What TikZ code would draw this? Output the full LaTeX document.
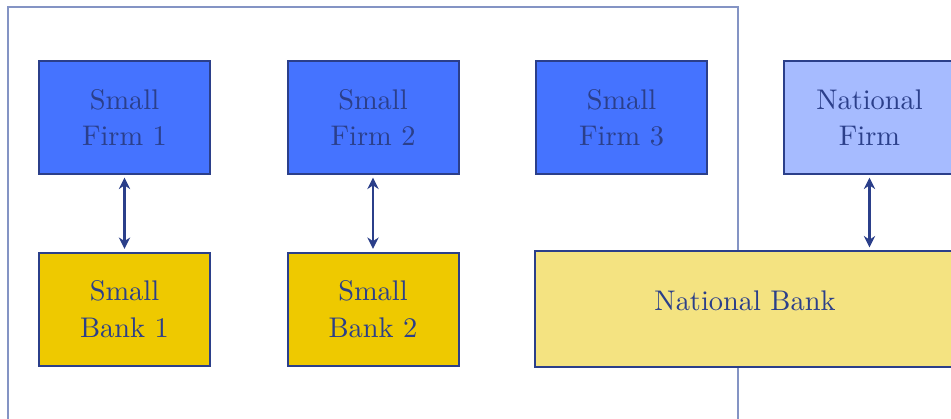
\documentclass[tikz,border=0pt]{standalone}
\usetikzlibrary{arrows.meta}
\definecolor{edgeblue}{HTML}{2B3F8A}
\definecolor{frameblue}{HTML}{8494C4}
\definecolor{firmblue}{HTML}{4573FF}
\definecolor{natfirm}{HTML}{A6BBFF}
\definecolor{bankgold}{HTML}{EEC900}
\definecolor{natbank}{HTML}{F4E381}
\begin{document}
\begin{tikzpicture}[x=0.3521pt,y=-0.3521pt,
  box/.style={draw=edgeblue,line width=0.7pt,rectangle,align=center,
    text=edgeblue,minimum width=171*0.3521pt,minimum height=113*0.3521pt,
    inner sep=0pt,outer sep=0pt},
  firm/.style={box,fill=firmblue},
  bigfirm/.style={box,fill=natfirm},
  bank/.style={box,fill=bankgold},
  bigbank/.style={box,fill=natbank,minimum width=420*0.3521pt,minimum height=116*0.3521pt,
    text height=7pt,text depth=6pt},
  link/.style={draw=edgeblue,line width=0.8pt,{Stealth[length=4pt,width=4pt]}-{Stealth[length=4pt,width=4pt]},shorten <=1.3pt,shorten >=1.3pt}]
  \useasboundingbox (0,0) rectangle (951,418);
  \clip (0,0) rectangle (951,418);
  % local market frame
  \draw[frameblue,line width=0.5pt] (8,440) -- (8,7) -- (738,7) -- (738,440);
  % firms
  \node[firm] (f1) at (124.5,117.5) {Small\\[0.8pt]Firm 1};
  \node[firm] (f2) at (373,117.5) {Small\\[0.8pt]Firm 2};
  \node[firm] (f3) at (621.5,117.5) {Small\\[0.8pt]Firm 3};
  \node[bigfirm] (nf) at (869.5,117.5) {National\\[0.8pt]Firm};
  % banks
  \node[bank] (b1) at (124.5,309) {Small\\[0.8pt]Bank 1};
  \node[bank] (b2) at (373,309) {Small\\[0.8pt]Bank 2};
  \node[bigbank] (nb) at (745,309) {National Bank};
  \coordinate (nbtop) at (869.5,251);
  % lending relationships
  \draw[link] (f1) -- (b1);
  \draw[link] (f2) -- (b2);
  \draw[link] (nf) -- (nbtop);
\end{tikzpicture}
\end{document}
